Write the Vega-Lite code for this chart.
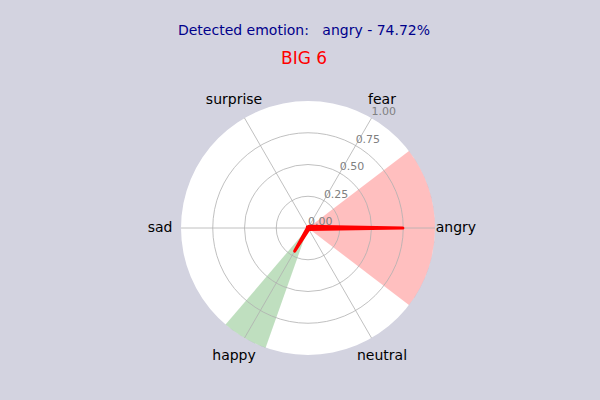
{
  "$schema": "https://vega.github.io/schema/vega-lite/v6.json",
  "width": 254,
  "height": 254,
  "autosize": {"type": "none"},
  "padding": {"left": 181, "top": 101, "right": 165, "bottom": 45},
  "background": "#d3d3e0",
  "config": {"view": {"stroke": null}, "font": "DejaVu Sans"},
  "title": {
    "text": "Detected emotion:\u00a0\u00a0\u00a0angry - 74.72%",
    "subtitle": "BIG 6",
    "frame": "group",
    "anchor": "middle",
    "dx": -4,
    "font": "DejaVu Sans",
    "fontSize": 14,
    "fontWeight": "normal",
    "color": "#00008b",
    "subtitleFont": "DejaVu Sans",
    "subtitleFontSize": 17,
    "subtitleColor": "#ff0000",
    "subtitlePadding": 13,
    "offset": 26
  },
  "datasets": {
    "emotions": [
      {"emotion": "angry", "angle": 0, "prob": 0.7472},
      {"emotion": "fear", "angle": 60, "prob": 0.015},
      {"emotion": "surprise", "angle": 120, "prob": 0.01},
      {"emotion": "sad", "angle": 180, "prob": 0.005},
      {"emotion": "happy", "angle": 240, "prob": 0.21},
      {"emotion": "neutral", "angle": 300, "prob": 0.013}
    ],
    "rings": [{"r": 0}, {"r": 0.25}, {"r": 0.5}, {"r": 0.75}, {"r": 1.0}]
  },
  "layer": [
    {
      "data": {"values": [{"r": 1}]},
      "mark": {"type": "arc", "fill": "white", "stroke": null},
      "encoding": {
        "theta": {"datum": 0, "type": "quantitative", "scale": {"type": "linear", "domain": [0, 360], "range": [1.5707963, -4.712389]}},
        "theta2": {"datum": 360},
        "radius": {"field": "r", "type": "quantitative", "stack": null, "scale": {"type": "linear", "zero": true, "domain": [0, 1], "range": [0, 127]}}
      }
    },
    {
      "data": {"name": "emotions"},
      "transform": [
        {"filter": "datum.prob > 0.1"},
        {"calculate": "datum.angle - 50 * datum.prob", "as": "a0"},
        {"calculate": "datum.angle + 50 * datum.prob", "as": "a1"},
        {"calculate": "1", "as": "r"}
      ],
      "mark": {"type": "arc", "opacity": 0.25, "stroke": null},
      "encoding": {
        "theta": {"field": "a0", "type": "quantitative", "stack": null, "scale": {"type": "linear", "domain": [0, 360], "range": [1.5707963, -4.712389]}},
        "theta2": {"field": "a1"},
        "radius": {"field": "r", "type": "quantitative", "stack": null, "scale": {"type": "linear", "zero": true, "domain": [0, 1], "range": [0, 127]}},
        "color": {"field": "emotion", "type": "nominal", "scale": {"domain": ["angry", "happy"], "range": ["#ff0000", "#008000"]}, "legend": null}
      }
    },
    {
      "data": {"name": "rings"},
      "transform": [{"filter": "datum.r > 0 && datum.r < 1"}],
      "mark": {"type": "arc", "fill": null, "filled": false, "stroke": "#b0b0b0", "strokeWidth": 0.8},
      "encoding": {
        "theta": {"datum": 0, "type": "quantitative", "scale": {"type": "linear", "domain": [0, 360], "range": [1.5707963, -4.712389]}},
        "theta2": {"datum": 360},
        "radius": {"field": "r", "type": "quantitative", "stack": null, "scale": {"type": "linear", "zero": true, "domain": [0, 1], "range": [0, 127]}}
      }
    },
    {
      "data": {"name": "emotions"},
      "transform": [
        {"calculate": "cos(datum.angle * PI / 180)", "as": "x"},
        {"calculate": "sin(datum.angle * PI / 180)", "as": "y"},
        {"calculate": "0", "as": "x0"}
      ],
      "mark": {"type": "rule", "color": "#b0b0b0", "strokeWidth": 0.8},
      "encoding": {
        "x": {"field": "x0", "type": "quantitative", "scale": {"domain": [-1, 1], "nice": false, "zero": false}, "axis": null},
        "y": {"field": "x0", "type": "quantitative", "scale": {"domain": [-1, 1], "nice": false, "zero": false}, "axis": null},
        "x2": {"field": "x"},
        "y2": {"field": "y"}
      }
    },
    {
      "data": {"name": "rings"},
      "transform": [
        {"calculate": "datum.r * cos(60 * PI / 180)", "as": "x"},
        {"calculate": "datum.r * sin(60 * PI / 180)", "as": "y"}
      ],
      "mark": {"type": "text", "align": "left", "baseline": "bottom", "fontSize": 11, "color": "#808080", "font": "DejaVu Sans", "dy": -1},
      "encoding": {
        "x": {"field": "x", "type": "quantitative", "scale": {"domain": [-1, 1], "nice": false, "zero": false}, "axis": null},
        "y": {"field": "y", "type": "quantitative", "scale": {"domain": [-1, 1], "nice": false, "zero": false}, "axis": null},
        "text": {"field": "r", "type": "quantitative", "format": ".2f"}
      }
    },
    {
      "data": {"name": "emotions"},
      "transform": [
        {"calculate": "datum.prob * cos(datum.angle * PI / 180)", "as": "x"},
        {"calculate": "datum.prob * sin(datum.angle * PI / 180)", "as": "y"}
      ],
      "mark": {"type": "line", "interpolate": "linear-closed", "color": "#ff0000", "strokeWidth": 3, "strokeJoin": "round", "strokeCap": "round"},
      "encoding": {
        "x": {"field": "x", "type": "quantitative", "scale": {"domain": [-1, 1], "nice": false, "zero": false}, "axis": null},
        "y": {"field": "y", "type": "quantitative", "scale": {"domain": [-1, 1], "nice": false, "zero": false}, "axis": null},
        "order": {"field": "angle", "type": "quantitative"}
      }
    },
    {
      "data": {"name": "emotions"},
      "transform": [
        {"calculate": "1.165 * cos(datum.angle * PI / 180)", "as": "x"},
        {"calculate": "1.165 * sin(datum.angle * PI / 180)", "as": "y"}
      ],
      "mark": {"type": "text", "align": "center", "baseline": "middle", "fontSize": 14, "color": "#000000", "font": "DejaVu Sans"},
      "encoding": {
        "x": {"field": "x", "type": "quantitative", "scale": {"domain": [-1, 1], "nice": false, "zero": false}, "axis": null},
        "y": {"field": "y", "type": "quantitative", "scale": {"domain": [-1, 1], "nice": false, "zero": false}, "axis": null},
        "text": {"field": "emotion", "type": "nominal"}
      }
    }
  ]
}
